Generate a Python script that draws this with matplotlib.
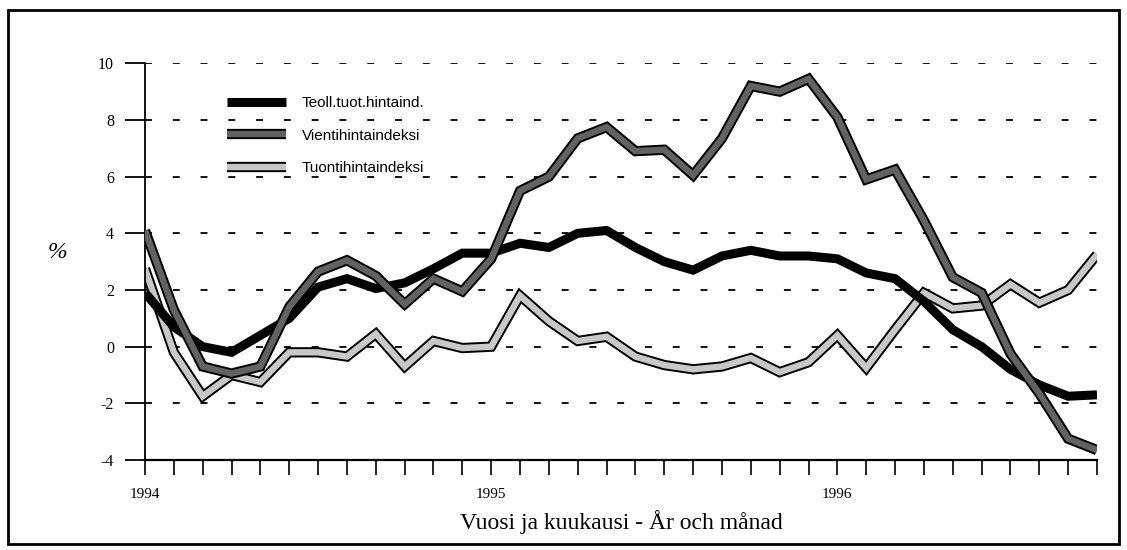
import matplotlib.pyplot as plt
import matplotlib.patheffects as pe
from matplotlib.patches import Rectangle

# monthly values, Jan 1994 .. Oct 1996 (%)
months = list(range(34))
teoll = [1.9, 0.7, 0.0, -0.2, 0.4, 1.0, 2.1, 2.4, 2.05, 2.25, 2.75, 3.3,
         3.3, 3.65, 3.5, 4.0, 4.1, 3.5, 3.0, 2.7, 3.2, 3.4, 3.2, 3.2,
         3.1, 2.6, 2.4, 1.6, 0.6, 0.0, -0.8, -1.35, -1.75, -1.7]
vienti = [4.1, 1.3, -0.7, -0.95, -0.7, 1.4, 2.65, 3.05, 2.5, 1.5, 2.4, 1.95,
          3.1, 5.5, 6.0, 7.35, 7.75, 6.9, 6.95, 6.05, 7.35, 9.2, 9.0, 9.45,
          8.1, 5.9, 6.25, 4.45, 2.45, 1.9, -0.25, -1.65, -3.25, -3.65]
tuonti = [2.75, -0.2, -1.75, -1.0, -1.25, -0.2, -0.2, -0.35, 0.45, -0.7, 0.2, -0.05,
          0.0, 1.8, 0.9, 0.2, 0.35, -0.35, -0.65, -0.8, -0.7, -0.4, -0.9, -0.55,
          0.4, -0.75, 0.6, 1.9, 1.35, 1.45, 2.2, 1.55, 2.0, 3.25]

series_labels = ["Teoll.tuot.hintaind.", "Vientihintaindeksi", "Tuontihintaindeksi"]
year_ticks = {0: "1994", 12: "1995", 24: "1996"}
y_ticks = [-4, -2, 0, 2, 4, 6, 8, 10]

plt.rcParams["lines.scale_dashes"] = False
serif = "Liberation Serif"
sans = "Liberation Sans"

W, H = 1127, 550
fig = plt.figure(figsize=(W / 100, H / 100), dpi=100)
ax = fig.add_axes([145 / W, 1 - 460 / H, (1097 - 145) / W, (460 - 63.3) / H])

# dashed horizontal grid
for y in y_ticks[1:]:
    ax.axhline(y, color="black", lw=1.3, dashes=(5, 15), zorder=1)

ax.plot(months, teoll, color="black", lw=6.5,
        solid_joinstyle="miter", solid_capstyle="butt",
        label=series_labels[0], zorder=3)
ax.plot(months, vienti, color="#626262", lw=4.6,
        solid_joinstyle="miter", solid_capstyle="butt",
        path_effects=[pe.Stroke(linewidth=7.4, foreground="black"), pe.Normal()],
        label=series_labels[1], zorder=4)
ax.plot(months, tuonti, color="#c8c8c8", lw=4.6,
        solid_joinstyle="miter", solid_capstyle="butt",
        path_effects=[pe.Stroke(linewidth=7.4, foreground="black"), pe.Normal()],
        label=series_labels[2], zorder=2)

ax.set_xlim(0, 33)
ax.set_ylim(-4, 10)

ax.spines["top"].set_visible(False)
ax.spines["right"].set_visible(False)
ax.spines["left"].set_linewidth(1.3)
ax.spines["bottom"].set_linewidth(1.6)

ax.set_yticks(y_ticks)
ax.set_yticklabels([str(v) for v in y_ticks], fontfamily=serif, fontsize=11.5)
ax.tick_params(axis="y", direction="out", length=14.4, width=1.3, pad=8)

ax.set_xticks(months)
ax.set_xticklabels([year_ticks.get(m, "") for m in months],
                   fontfamily=serif, fontsize=11)
ax.tick_params(axis="x", direction="out", length=11, width=1.2, pad=9)

ax.set_xlabel("Vuosi ja kuukausi - År och månad", fontfamily=serif,
              fontsize=17, labelpad=7)
fig.text(57 / W, 1 - 252 / H, "%", fontfamily=serif, fontsize=17,
         fontstyle="italic", ha="center", va="center")

ax.legend(loc="upper left", bbox_to_anchor=(227 / W, 1 - 96 / H),
          bbox_transform=fig.transFigure, frameon=False, borderpad=0,
          borderaxespad=0, handlelength=3.85, handletextpad=1.05,
          labelspacing=1.22, prop={"family": sans, "size": 11})

# outer frame of the figure
fig.add_artist(Rectangle((8 / W, 1 - 544 / H), (1119 - 8) / W, (544 - 10) / H,
                         transform=fig.transFigure, fill=False,
                         edgecolor="black", lw=2))

fig.savefig("out.png", dpi=100)
